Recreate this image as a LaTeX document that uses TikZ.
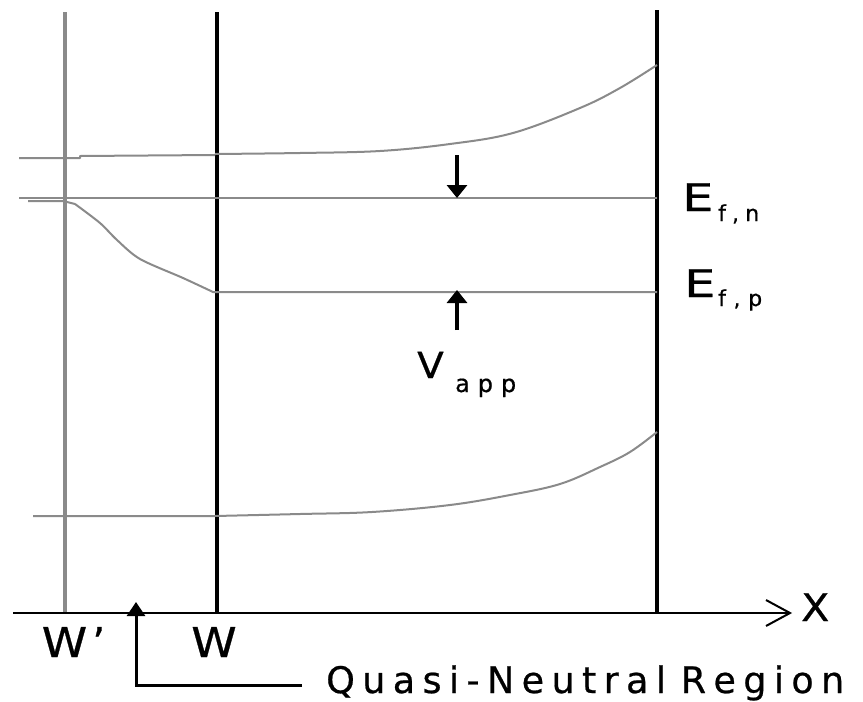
\documentclass[tikz,border=0pt]{standalone}
\usepackage{fontspec}
\setmainfont{DejaVu Sans}[FakeBold=0.6]
\usetikzlibrary{arrows.meta}
\definecolor{bandgray}{HTML}{8A8A8A}
\tikzset{
  band/.style={draw=bandgray, line width=2pt, line join=round},
  gridv/.style={draw=bandgray, line width=3.5pt},
  blackv/.style={draw=black, line width=3.5pt},
  arr/.style={draw=black, line width=3.5pt, -{Triangle[width=20pt,length=13pt]}},
  lab/.style={inner sep=0pt, anchor=base west},
}
\newcommand{\fsz}[1]{\fontsize{#1}{#1}\selectfont}
\newcommand{\spaced}[2]{\makebox[#1][s]{#2}}
\begin{document}
\begin{tikzpicture}[x=1pt,y=-1pt]
\useasboundingbox (0,0) rectangle (863,702);
% vertical lines
\draw[gridv] (65,12) -- (65,613);
\draw[blackv] (217,12) -- (217,613);
\draw[blackv] (657,10) -- (657,613);
% conduction band
\draw[band] (19,158) -- (80,158) -- (80,156) -- (215,155)
  plot[smooth, tension=0.6] coordinates {(215,154) (300,153) (380,151) (450,144) (513,133) (580,108) (620,88) (657,65)};
% Ef,n
\draw[band] (19,198) -- (657,198);
% Ef,p
\draw[band] (28,201) -- (63,201) -- (75,204)
  plot[smooth, tension=0.5] coordinates {(75,204) (100,223) (117,240) (140,259) (183,278) (213,292)}
  -- (657,292);
% valence band
\draw[band] (33,516) -- (215,516)
  plot[smooth, tension=0.6] coordinates {(215,516) (300,514) (372,512) (450,505) (510,495) (560,484) (600,467) (630,452) (657,432)};
% axis
\coordinate (ax0) at (13,613);
\coordinate (ax1) at (790,613);
\draw[line width=2pt] (ax0) -- (ax1);
\draw[line width=2pt] (766,600) -- (ax1) -- (766,626);
% V_app arrows
\coordinate (d0) at (457,155);
\coordinate (d1) at (457,198);
\coordinate (u0) at (457,330);
\coordinate (u1) at (457,290);
\draw[arr] (d0) -- (d1);
\draw[arr] (u0) -- (u1);
% quasi-neutral arrow
\coordinate (q0) at (302,685);
\coordinate (q1) at (136,685);
\coordinate (q2) at (136,602);
\draw[line width=3pt, -{Triangle[width=18pt,length=14pt]}] (q0) -- (q1) -- (q2);
% labels
\node[lab] (efn) at (682,211) {\fsz{38}\scalebox{1.3}[1]{E}};
\node[lab] (efnsub) at (718,221) {\fsz{22}\spaced{41pt}{f\hfill,\hfill n}};
\node[lab] (efp) at (684,297) {\fsz{38}\scalebox{1.3}[1]{E}};
\node[lab] (efpsub) at (718,306) {\fsz{22}\spaced{44pt}{f\hfill,\hfill p}};
\node[lab] (vapp) at (417,378) {\fsz{36}\scalebox{1.08}[1]{V}};
\node[lab] (vappsub) at (455,392) {\fsz{24}\spaced{61pt}{a\hfill p\hfill p}};
\node[inner sep=0pt, anchor=base] (wp) at (64.5,657) {\fsz{41}\scalebox{1.12}[1]{W}\rlap{\kern5pt’}};
\node[inner sep=0pt, anchor=base] (w) at (214,657) {\fsz{41}\scalebox{1.12}[1]{W}};
\node[lab] (x) at (801,621) {\fsz{38}\scalebox{1.08}[1]{X}};
\node[lab] (qnr) at (326,693) {\fsz{36.5}\spaced{518pt}{Q\hfill u\hfill a\hfill s\hfill i\hfill -\hfill N\hfill e\hfill u\hfill t\hfill r\hfill a\hfill l\hfill\hfill R\hfill e\hfill g\hfill i\hfill o\hfill n}};
\end{tikzpicture}
\end{document}
